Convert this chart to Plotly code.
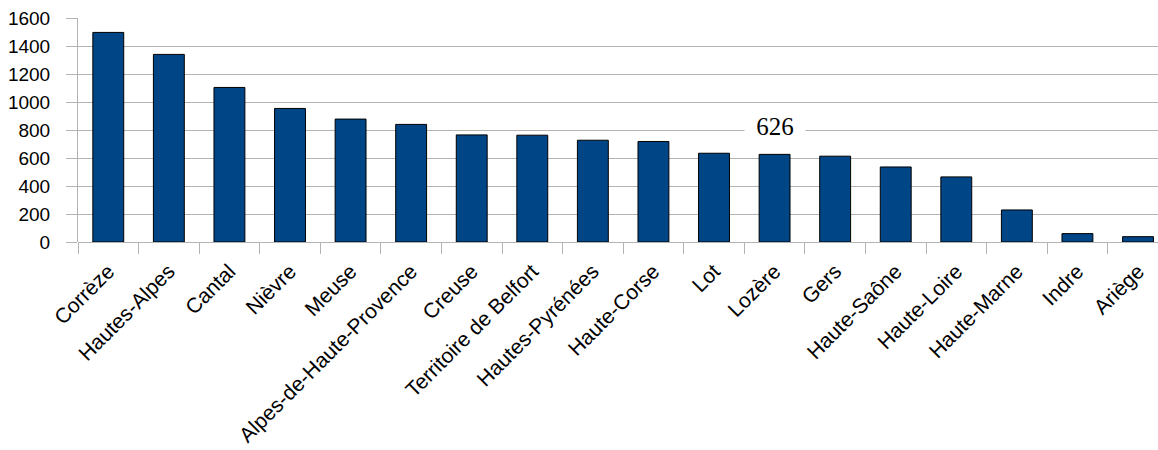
import plotly.graph_objects as go

categories = ["Corrèze", "Hautes-Alpes", "Cantal", "Nièvre", "Meuse",
              "Alpes-de-Haute-Provence", "Creuse", "Territoire de Belfort",
              "Hautes-Pyrénées", "Haute-Corse", "Lot", "Lozère", "Gers",
              "Haute-Saône", "Haute-Loire", "Haute-Marne", "Indre", "Ariège"]
values = [1497, 1340, 1104, 954, 878, 840, 765, 763, 727, 718, 634, 626, 613,
          536, 465, 229, 60, 38]
y_ticks = [0, 200, 400, 600, 800, 1000, 1200, 1400, 1600]
label_category = "Lozère"
label_text = "626"

fig = go.Figure()
fig.add_trace(go.Bar(
    x=categories, y=values, width=0.51,
    marker=dict(color="#004586", line=dict(color="#000000", width=1)),
))

fig.add_annotation(
    x=label_category, y=828, text=label_text, showarrow=False,
    font=dict(family="Liberation Serif", size=25, color="#000000"),
    bgcolor="#ffffff", borderpad=2, xanchor="center", yanchor="middle",
    width=56,
)

fig.update_layout(
    width=1158, height=450,
    margin=dict(l=78, r=0, t=18, b=208, autoexpand=False),
    paper_bgcolor="#ffffff", plot_bgcolor="#ffffff",
    showlegend=False,
    bargap=0.49,
    font=dict(family="Liberation Sans", size=18, color="#000000"),
)
fig.update_xaxes(
    type="category", range=[-0.5, 17.33],
    tickangle=-45, tickson="boundaries", ticks="outside", ticklen=11,
    tickcolor="#b3b3b3", tickwidth=1,
    showline=False, showgrid=False, zeroline=False,
    tickfont=dict(family="Liberation Sans", size=21, color="#000000"),
    ticklabelstandoff=12,
)
fig.update_yaxes(
    range=[0, 1600], tickvals=y_ticks, ticks="outside", ticklen=11,
    tickcolor="#b3b3b3", tickwidth=1,
    showline=True, linecolor="#b3b3b3", linewidth=1,
    showgrid=True, gridcolor="#b3b3b3", gridwidth=1,
    zeroline=True, zerolinecolor="#b3b3b3", zerolinewidth=1,
    tickfont=dict(family="Liberation Sans", size=19, color="#000000"),
    ticklabelstandoff=12,
)

fig.write_html("out.html")
